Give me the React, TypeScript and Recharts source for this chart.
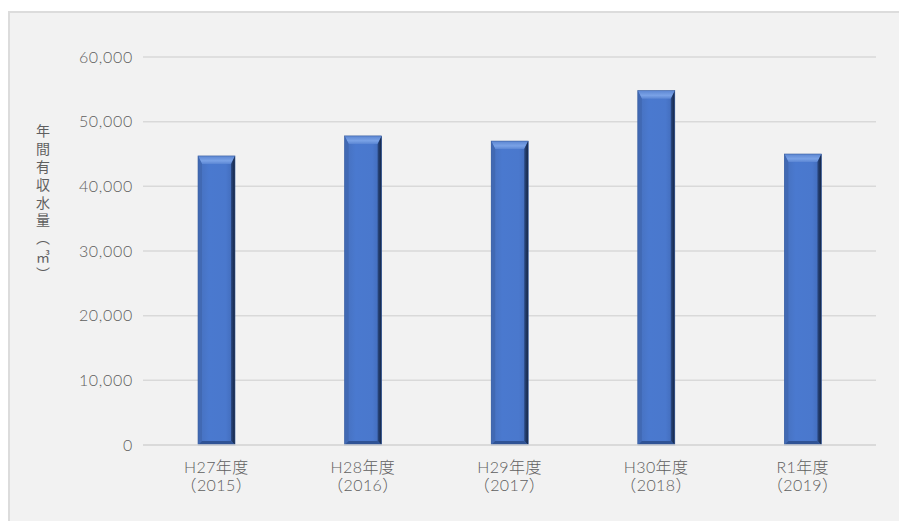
import { BarChart, Bar, XAxis, YAxis, CartesianGrid, Label } from "recharts";

const years = ["H27年度", "H28年度", "H29年度", "H30年度", "R1年度"];
const westernYears = ["2015", "2016", "2017", "2018", "2019"];
const volumes = [44700, 47800, 47000, 54800, 45000];
const yTicks = [0, 10000, 20000, 30000, 40000, 50000, 60000];
const yTitle = "年間有収水量︵㎥︶";

const data = years.map((name, i) => ({ name, year: westernYears[i], value: volumes[i] }));

const FONT = "Lato, 'Noto Sans CJK JP', sans-serif";
const TEXT = "#5f5f5f";

// bevelled bar like the office-style chart preset
function BevelBar(props: any) {
  const { x, y, width, height } = props;
  if (!height || height <= 0) return null;
  const top = 8;
  const side = 4;
  const bot = 4;
  const r = x + width;
  const btm = y + height;
  return (
    <g>
      <rect x={x} y={y} width={width} height={height} fill="url(#barFace)" />
      <polygon points={`${x},${y} ${r},${y} ${r - side},${y + top} ${x + side},${y + top}`} fill="url(#barTop)" />
      <polygon points={`${x},${y} ${x + side},${y + top} ${x + side},${btm - bot} ${x},${btm}`} fill="#4169b3" />
      <polygon points={`${r},${y} ${r - side},${y + top} ${r - side},${btm - bot} ${r},${btm}`} fill="url(#barRight)" />
      <polygon points={`${x},${btm} ${x + side},${btm - bot} ${r - side},${btm - bot} ${r},${btm}`} fill="#2f5396" />
      <rect x={x} y={y} width={width} height={height} fill="none" stroke="#3a5f9f" strokeWidth={0.6} />
    </g>
  );
}

function YearTick(props: any) {
  const { x, y, payload, index } = props;
  return (
    <text x={x} y={y} textAnchor="middle" fill={TEXT} fontSize={16} fontWeight={300} fontFamily={FONT} letterSpacing={0.4}>
      <tspan x={x} dy={20}>{payload.value}</tspan>
      <tspan x={x} dy={18}>（{westernYears[index]}）</tspan>
    </text>
  );
}

// vertical title, glyphs kept upright
function AxisTitle() {
  return (
    <text
      x={33}
      y={111}
      fill={TEXT}
      fontSize={14}
      letterSpacing={3.8}
      fontFamily="'Noto Sans CJK JP', sans-serif"
      style={{ writingMode: "vertical-rl", textOrientation: "upright" }}
    >
      {yTitle}
    </text>
  );
}

export default function App() {
  return (
    <div
      style={{
        marginTop: 3,
        width: 899,
        height: 510,
        background: "#f2f2f2",
        borderTop: "2px solid #dcdcdc",
        borderLeft: "2px solid #dcdcdc",
        boxSizing: "border-box",
      }}
    >
      <BarChart
        width={897}
        height={508}
        data={data}
        margin={{ top: 44, right: 31, bottom: 0, left: 0 }}
      >
        <defs>
          <linearGradient id="barFace" x1="0" y1="0" x2="1" y2="0">
            <stop offset="0%" stopColor="#4670bd" />
            <stop offset="30%" stopColor="#4a79cf" />
            <stop offset="75%" stopColor="#4a78cd" />
            <stop offset="100%" stopColor="#3f68b5" />
          </linearGradient>
          <linearGradient id="barTop" x1="0" y1="0" x2="0" y2="1">
            <stop offset="0%" stopColor="#5c86d2" />
            <stop offset="60%" stopColor="#7aa2e6" />
            <stop offset="100%" stopColor="#5b86d4" />
          </linearGradient>
          <linearGradient id="barRight" x1="0" y1="0" x2="1" y2="0">
            <stop offset="0%" stopColor="#2b4a85" />
            <stop offset="100%" stopColor="#14233f" />
          </linearGradient>
        </defs>
        <CartesianGrid vertical={false} stroke="#d9d9d9" strokeWidth={1.5} />
        <XAxis
          dataKey="name"
          axisLine={{ stroke: "#d9d9d9", strokeWidth: 1.5 }}
          tickLine={false}
          tick={<YearTick />}
          height={76}
          interval={0}
        />
        <YAxis
          width={133}
          domain={[0, 60000]}
          ticks={yTicks}
          axisLine={false}
          tickLine={false}
          tickMargin={4}
          tickFormatter={(v: number) => v.toLocaleString("en-US")}
          tick={{ fill: TEXT, fontSize: 16, fontWeight: 300, fontFamily: FONT, letterSpacing: 0.7 }}
        >
          <Label content={<AxisTitle />} />
        </YAxis>
        <Bar dataKey="value" barSize={37} shape={<BevelBar />} isAnimationActive={false} />
      </BarChart>
    </div>
  );
}
